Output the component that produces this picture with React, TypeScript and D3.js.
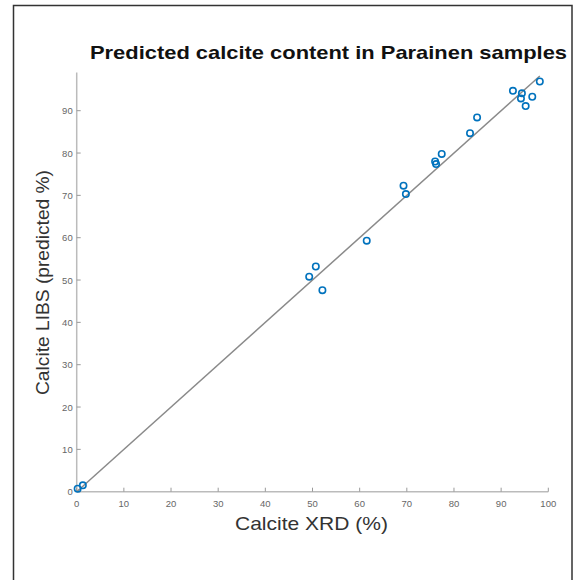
import * as d3 from "d3";

const width = 584;
const height = 580;

// Calcite XRD (%) vs Calcite LIBS (predicted %)
const xrdValues = [
  0.2, 1.3, 49.3, 50.7, 52.1, 61.5, 69.3, 69.8, 76.0, 76.2, 77.4, 83.4, 84.9,
  92.5, 94.4, 94.2, 96.6, 95.2, 98.2,
];
const libsValues = [
  0.7, 1.5, 50.8, 53.2, 47.6, 59.3, 72.3, 70.3, 78.0, 77.4, 79.8, 84.7, 88.4,
  94.7, 94.1, 92.9, 93.3, 91.1, 96.9,
];
const xTicks = [0, 10, 20, 30, 40, 50, 60, 70, 80, 90, 100];
const yTicks = [0, 10, 20, 30, 40, 50, 60, 70, 80, 90];
const fitLine = [0, 98.2];

const App = () => {
  const x = d3.scaleLinear().domain([0, 100]).range([76.7, 548.3]);
  const y = d3.scaleLinear().domain([0, 99]).range([491.7, 72.6]);

  const line = d3
    .line<number>()
    .x((d) => x(d))
    .y((d) => y(d));

  const font = "'Liberation Sans', Arial, Helvetica, sans-serif";

  return (
    <svg
      width={width}
      height={height}
      style={{ position: "absolute", left: 0, top: 0, fontFamily: font }}
    >
      <rect x={0} y={0} width={width} height={height} fill="white" />
      {/* outer frame */}
      <rect
        x={13.5}
        y={5.5}
        width={558.5}
        height={600}
        fill="none"
        stroke="#333"
        strokeWidth={1.5}
      />

      <text
        x={90}
        y={59}
        fontSize={19}
        fontWeight="bold"
        fill="#111"
        textLength={477}
        lengthAdjust="spacingAndGlyphs"
      >
        Predicted calcite content in Parainen samples
      </text>

      {/* axes */}
      <g stroke="#bbb" strokeWidth={1.5}>
        <line x1={x(0)} x2={x(100)} y1={y(0)} y2={y(0)} />
        <line x1={x(0)} x2={x(0)} y1={y(0)} y2={y(99)} />
      </g>
      <g stroke="#999" strokeWidth={1}>
        {xTicks.map((t) => (
          <line key={t} x1={x(t)} x2={x(t)} y1={y(0)} y2={y(0) - 4} />
        ))}
        {yTicks.map((t) => (
          <line key={t} x1={x(0)} x2={x(0) + 4} y1={y(t)} y2={y(t)} />
        ))}
      </g>
      <g fontSize={9.5} fill="#666">
        {xTicks.map((t) => (
          <text key={t} x={x(t)} y={y(0) + 15} textAnchor="middle">
            {t}
          </text>
        ))}
        {yTicks.map((t) => (
          <text key={t} x={x(0) - 4} y={y(t) + 3.5} textAnchor="end">
            {t}
          </text>
        ))}
      </g>

      <text
        x={235}
        y={530}
        fontSize={18.5}
        fill="#333"
        textLength={153}
        lengthAdjust="spacingAndGlyphs"
      >
        Calcite XRD (%)
      </text>
      <text
        transform="translate(49, 395) rotate(-90)"
        fontSize={18.5}
        fill="#333"
        textLength={225}
        lengthAdjust="spacingAndGlyphs"
      >
        Calcite LIBS (predicted %)
      </text>

      <path d={line(fitLine) ?? ""} stroke="#8a8a8a" strokeWidth={1.5} fill="none" />

      {xrdValues.map((v, i) => (
        <circle
          key={i}
          cx={x(v)}
          cy={y(libsValues[i])}
          r={3.2}
          fill="none"
          stroke="#0072BD"
          strokeWidth={1.6}
        />
      ))}
    </svg>
  );
};

export default App;
